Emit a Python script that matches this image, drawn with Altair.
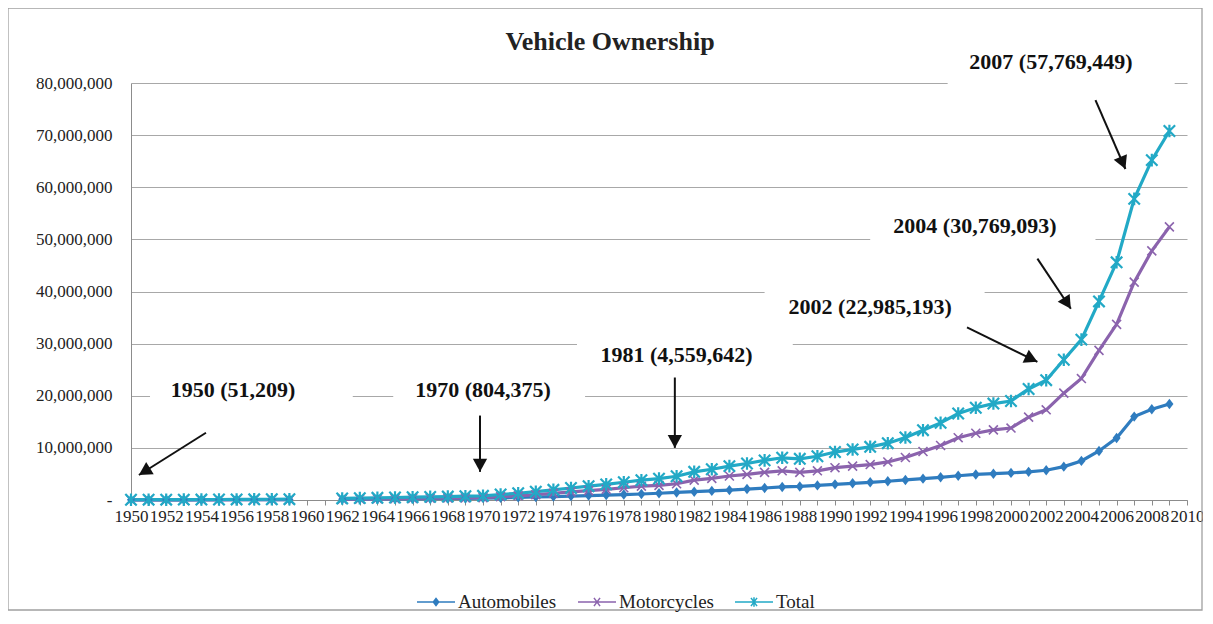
import altair as alt
import pandas as pd

# ---------------- data ----------------
years = list(range(1950, 1960)) + list(range(1962, 2010))

automobiles = [
    30000, 34000, 38000, 43000, 48000, 54000, 61000, 69000, 78000, 88000,
    150000, 170000, 190000, 210000, 230000, 260000, 290000, 320000,
    360000, 420000, 500000, 580000, 660000, 750000, 850000, 950000, 1050000, 1150000,
    1300000, 1450000, 1600000, 1750000, 1900000, 2100000, 2300000, 2500000, 2600000, 2800000,
    3000000, 3200000, 3400000, 3600000, 3850000, 4100000, 4350000, 4650000, 4900000, 5050000,
    5200000, 5400000, 5700000, 6400000, 7500000, 9400000, 11900000, 16000000, 17400000, 18400000,
]
motorcycles = [
    21000, 24000, 28000, 32000, 37000, 42000, 48000, 55000, 62000, 70000,
    150000, 190000, 230000, 270000, 310000, 340000, 370000, 410000,
    444000, 630000, 800000, 1020000, 1290000, 1550000, 1800000, 2050000, 2350000, 2650000,
    2800000, 3110000, 3800000, 4150000, 4600000, 4900000, 5300000, 5600000, 5300000, 5600000,
    6200000, 6500000, 6800000, 7300000, 8150000, 9300000, 10450000, 11950000, 12800000, 13450000,
    13800000, 15900000, 17300000, 20500000, 23300000, 28700000, 33700000, 41800000, 47800000, 52400000,
]
total = [
    51209, 58000, 66000, 75000, 85000, 96000, 109000, 124000, 140000, 158000,
    300000, 360000, 420000, 480000, 540000, 600000, 660000, 730000,
    804375, 1050000, 1300000, 1600000, 1950000, 2300000, 2650000, 3000000, 3400000, 3800000,
    4100000, 4559642, 5400000, 5900000, 6500000, 7000000, 7600000, 8100000, 7900000, 8400000,
    9200000, 9700000, 10200000, 10900000, 12000000, 13400000, 14800000, 16600000, 17700000, 18500000,
    19000000, 21300000, 22985193, 26900000, 30769093, 38100000, 45600000, 57769449, 65200000, 70800000,
]

series_names = ["Automobiles", "Motorcycles", "Total"]
series_values = [automobiles, motorcycles, total]
series_colors = ["#2f7cbf", "#8b63ad", "#22a9c6"]

x_ticks = list(range(1950, 2011))
y_ticks = [0, 10000000, 20000000, 30000000, 40000000, 50000000, 60000000, 70000000, 80000000]

# annotations (in data units)
ann_text = ["1950 (51,209)", "1970 (804,375)", "1981 (4,559,642)",
            "2002 (22,985,193)", "2004 (30,769,093)", "2007 (57,769,449)"]
ann_year = [1955.8, 1970.0, 1981.0, 1992.0, 1997.95, 2002.27]
ann_value = [21150000, 21150000, 27900000, 37100000, 52500000, 84000000]

box_year1 = [1951.08, 1964.9, 1975.34, 1986.0, 1992.0, 1996.4]
box_year2 = [1962.6, 1975.8, 1987.6, 1998.5, 2004.8, 2009.3]
box_value1 = [17700000, 17700000, 24400000, 33650000, 49000000, 79600000]
box_value2 = [24600000, 24600000, 31300000, 40600000, 56000000, 87700000]

arrow_year1 = [1954.26, 1969.83, 1980.9, 1997.5, 2001.5, 2004.8]
arrow_value1 = [12900000, 16200000, 23500000, 33100000, 46300000, 76700000]
arrow_year2 = [1950.45, 1969.83, 1980.9, 2001.5, 2003.4, 2006.5]
arrow_value2 = [4800000, 5400000, 10000000, 26500000, 36700000, 63500000]
arrow_angle = [58, 0, 0, 295.6, 326.6, 337]

# ---------------- frames ----------------
rows = []
for name, vals in zip(series_names, series_values):
    for yr, v in zip(years, vals):
        rows.append({"series": name, "year": yr, "value": v, "seg": 0 if yr < 1960 else 1})
df = pd.DataFrame(rows)

ann_df = pd.DataFrame({"text": ann_text, "year": ann_year, "value": ann_value})
box_df = pd.DataFrame({"year": box_year1, "year2": box_year2, "value": box_value1, "value2": box_value2})
arr_df = pd.DataFrame({"year": arrow_year1, "value": arrow_value1, "year2": arrow_year2,
                       "value2": arrow_value2, "angle": arrow_angle})
head_df = pd.DataFrame({"year": arrow_year2, "value": arrow_value2, "angle": arrow_angle})
one_df = pd.DataFrame({"a": [0]})

SERIF = "Liberation Serif"
xs = alt.Scale(domain=[1950, 2010], nice=False)
ys = alt.Scale(domain=[0, 80000000], nice=False)

x_axis = alt.Axis(values=x_ticks, format="d",
                  labelExpr="datum.value % 2 == 0 ? datum.label : ''",
                  labelOverlap=False, labelFlush=False, labelBound=False, grid=False,
                  tickSize=5, tickColor="#8c8c8c", domainColor="#8c8c8c", tickWidth=1,
                  labelFont=SERIF, labelFontSize=17, labelColor="#222222",
                  labelPadding=3, title=None)
y_axis = alt.Axis(values=y_ticks,
                  labelExpr="datum.value == 0 ? '-' : format(datum.value, ',')",
                  grid=True, gridColor="#a8a8a8", gridWidth=1.2,
                  domainColor="#8c8c8c", ticks=False, labelPadding=19,
                  labelFont=SERIF, labelFontSize=17, labelColor="#222222",
                  labelOverlap=False, title=None)

# identical axis definitions on every layer so that they merge cleanly
X = alt.X("year:Q", scale=xs, axis=x_axis, title=None)
Y = alt.Y("value:Q", scale=ys, axis=y_axis, title=None)

# chart-area frame (decoration)
frame = alt.Chart(one_df).mark_rect(filled=False, color="#a0a0a0", strokeWidth=1.3).encode(
    x=alt.value(-123), x2=alt.value(1071), y=alt.value(-75), y2=alt.value(527))

boxes = alt.Chart(box_df).mark_rect(fill="white").encode(x=X, x2="year2:Q", y=Y, y2="value2:Q")

layers = [frame, boxes]

marker_paths = {
    "Automobiles": "M0,-1.1L0.85,0L0,1.1L-0.85,0Z",
    "Motorcycles": "M-1,-1L1,1M-1,1L1,-1",
    "Total": "M-1,-1L1,1M-1,1L1,-1M0,-1.1L0,1.1",
}
for name, col in zip(series_names, series_colors):
    sub = df[df.series == name]
    layers.append(alt.Chart(sub).mark_line(strokeWidth=3.2, color=col).encode(
        x=X, y=Y, detail="seg:N"))
for name, col in zip(series_names, series_colors):
    sub = df[df.series == name]
    if name == "Automobiles":
        mk = alt.Chart(sub).mark_point(shape=marker_paths[name], filled=True, size=90,
                                       color=col, opacity=1)
    elif name == "Motorcycles":
        mk = alt.Chart(sub).mark_point(shape=marker_paths[name], filled=False, size=80,
                                       color=col, opacity=1, strokeWidth=1.6)
    else:
        mk = alt.Chart(sub).mark_point(shape=marker_paths[name], filled=False, size=130,
                                       color=col, opacity=1, strokeWidth=2.2)
    layers.append(mk.encode(x=X, y=Y))

legend_paths = [
    "M-1,0L1,0M0,-0.18L0.14,0L0,0.18L-0.14,0Z",
    "M-1,0L1,0M-0.16,-0.22L0.16,0.22M-0.16,0.22L0.16,-0.22",
    "M-1,0L1,0M-0.16,-0.22L0.16,0.22M-0.16,0.22L0.16,-0.22M0,-0.25L0,0.25",
]
leg = alt.Legend(orient="none", legendX=285, legendY=499, direction="horizontal",
                 title=None, symbolSize=1444, symbolOpacity=1, padding=0,
                 labelFont=SERIF, labelFontSize=19, labelColor="#222222",
                 labelOffset=2, columnPadding=18)
legend_layer = alt.Chart(df).mark_point(opacity=0, strokeWidth=3).encode(
    x=X, y=Y,
    fill=alt.Fill("series:N", scale=alt.Scale(domain=series_names, range=series_colors), legend=leg),
    stroke=alt.Stroke("series:N", scale=alt.Scale(domain=series_names, range=series_colors), legend=leg),
    shape=alt.Shape("series:N", scale=alt.Scale(domain=series_names, range=legend_paths), legend=leg),
)
layers.append(legend_layer)

arrows = alt.Chart(arr_df).mark_rule(color="#111111", strokeWidth=2).encode(
    x=X, y=Y, x2="year2:Q", y2="value2:Q")
heads = alt.Chart(head_df).mark_point(shape="M0,0L-0.55,-1L0.55,-1Z", filled=True, size=676,
                                      color="#111111", opacity=1).encode(
    x=X, y=Y, angle=alt.Angle("angle:Q", scale=None))
texts = alt.Chart(ann_df).mark_text(font=SERIF, fontSize=22, fontWeight="bold", color="#111111",
                                    align="center", baseline="middle").encode(
    x=X, y=Y, text="text:N")
layers += [arrows, heads, texts]

chart = alt.layer(*layers).properties(
    width=1056, height=417,
    padding={"left": 123, "top": 75, "right": 16, "bottom": 112},
    autosize=alt.AutoSizeParams(type="none"),
    title=alt.Title("Vehicle Ownership", font=SERIF, fontSize=26, fontWeight="bold",
                    color="#222222", anchor="middle", frame="group", dx=-49, offset=0,
                    baseline="alphabetic", dy=69),
).configure_view(strokeWidth=0)

chart.save("out.html", embed_options={"renderer": "svg", "actions": False})
